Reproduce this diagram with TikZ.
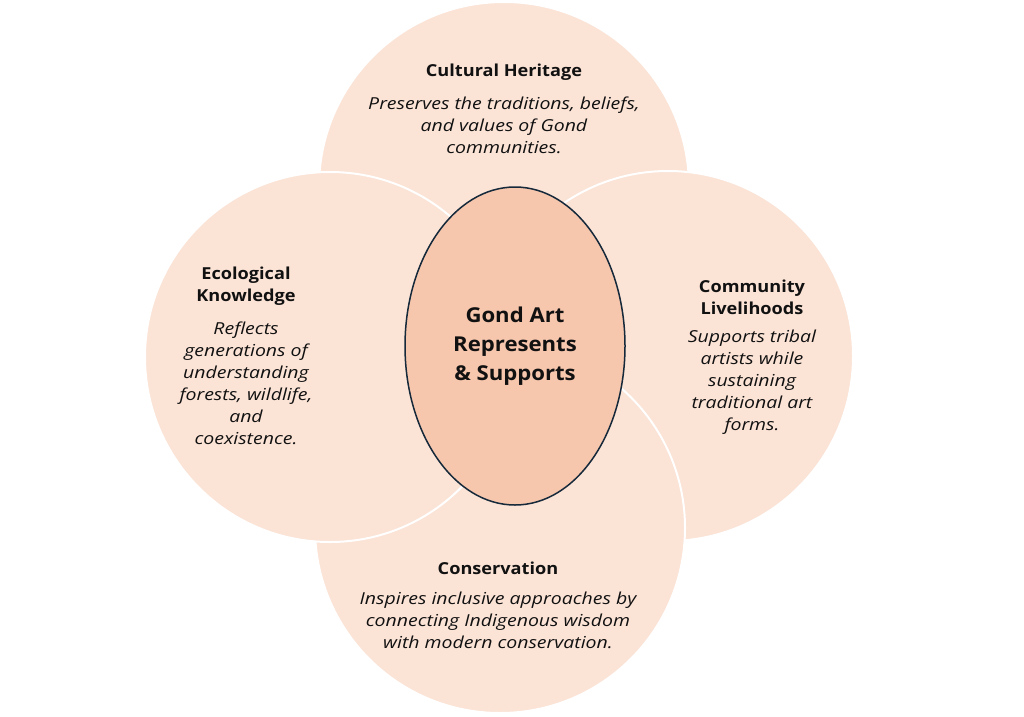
\documentclass[tikz,border=0pt]{standalone}
\usepackage{fontspec}
\setmainfont{Open Sans}[FakeStretch=1.1]
\newfontfamily\bodyfam{Open Sans}[FakeStretch=1.18]
\newfontfamily\hubfam{Open Sans}[FakeStretch=1.08]
\usetikzlibrary{shapes.geometric}
\definecolor{peach}{HTML}{FBE3D6}
\definecolor{peachdark}{HTML}{F6C6AD}
\definecolor{navy}{HTML}{15293A}
\definecolor{ink}{HTML}{111111}
\tikzset{
  petal/.style={circle, minimum size=370pt, inner sep=0pt, fill=peach, draw=white, line width=2pt},
  hub/.style={ellipse, minimum width=220pt, minimum height=318pt, inner sep=0pt, fill=peachdark, draw=navy, line width=1.5pt},
  ttl/.style={align=center, text=ink, font=\fontsize{16.5}{22}\selectfont\bfseries},
  bodytxt/.style={align=center, text=ink, font=\bodyfam\fontsize{16.5}{22}\selectfont\itshape},
  hubtxt/.style={align=center, text=ink, font=\hubfam\fontsize{20.5}{29}\selectfont\bfseries}
}
\begin{document}
\begin{tikzpicture}[x=1pt,y=-1pt]
\useasboundingbox (0,0) rectangle (1024,716);
\fill[white] (0,0) rectangle (1024,716);
\node[petal] (top) at (504,187) {};
\node[petal] (right) at (668,356) {};
\node[petal] (bottom) at (500,528) {};
\node[petal] (left) at (330,357) {};
\node[hub] (hub) at (515,346) {};
\node[hubtxt] (hubt) at (515,346) {Gond Art\\Represents\\\& Supports};
\node[ttl] (t1) at (504,72) {Cultural Heritage};
\node[bodytxt] (b1) at (504,125) {Preserves the traditions, beliefs,\\and values of Gond\\communities.};
\node[ttl] (t2) at (246,286) {Ecological\\Knowledge};
\node[bodytxt] (b2) at (246,383) {Reflects\\generations of\\understanding\\forests, wildlife,\\and\\coexistence.};
\node[ttl] (t3) at (752,297.5) {Community\\Livelihoods};
\node[bodytxt] (b3) at (752,382.5) {Supports tribal\\artists while\\sustaining\\traditional art\\forms.};
\node[ttl] (t4) at (498,568) {Conservation};
\node[bodytxt] (b4) at (498,620) {Inspires inclusive approaches by\\connecting Indigenous wisdom\\with modern conservation.};
\end{tikzpicture}
\end{document}
